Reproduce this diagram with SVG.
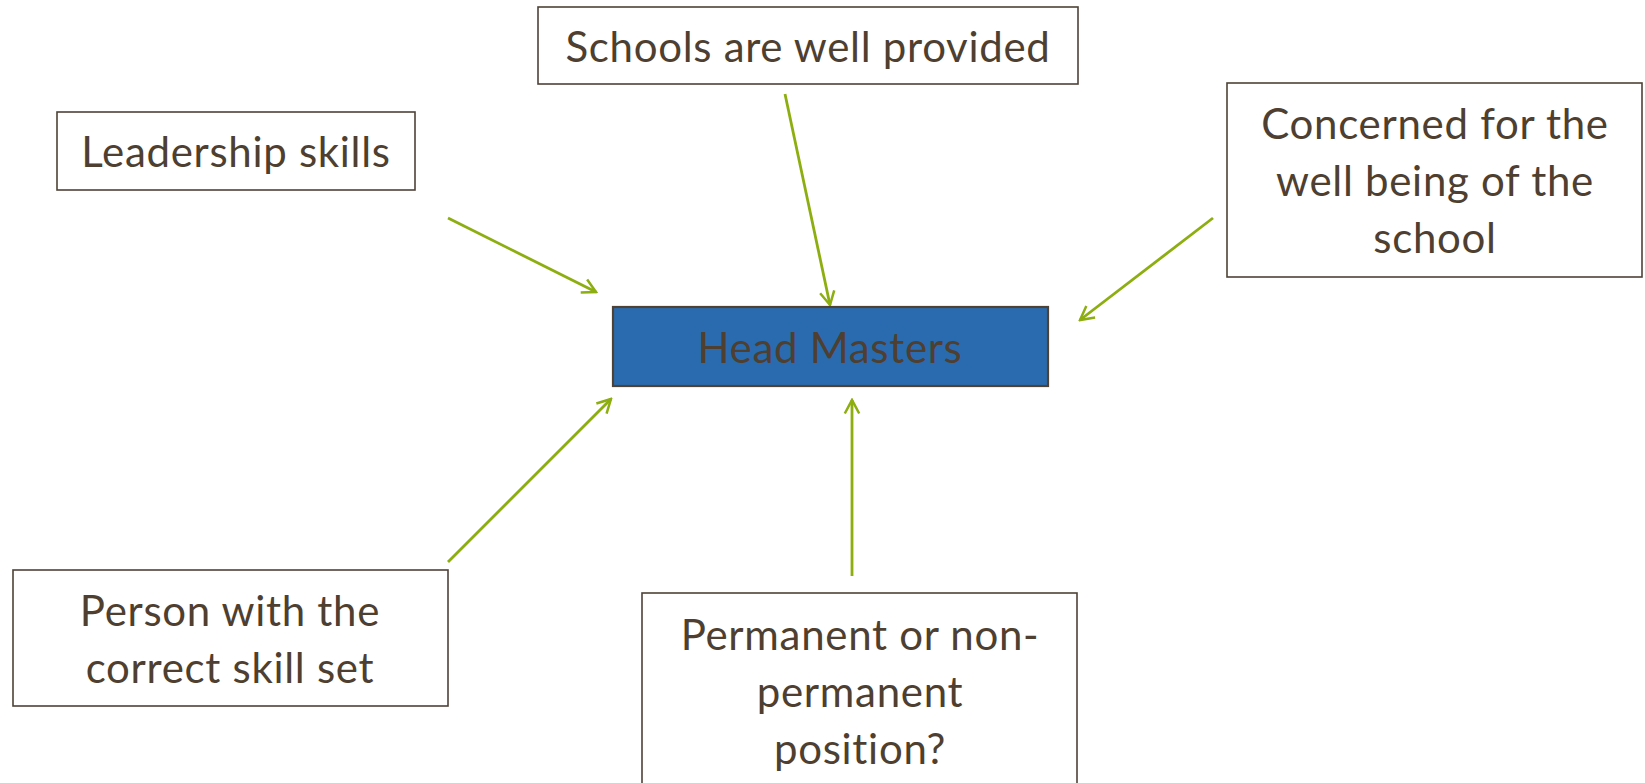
<svg xmlns="http://www.w3.org/2000/svg" width="1645" height="783" viewBox="0 0 1645 783">
<style>
.box{fill:#ffffff;stroke:#4E4236;stroke-width:1.6}
.main{fill:#2A6BB0;stroke:#4E4236;stroke-width:2.2}
.t{font-family:"Lato","Open Sans","Liberation Sans",sans-serif;font-size:42px;letter-spacing:0.7px;fill:#4E3F30;text-anchor:middle;dominant-baseline:central}
.c{stroke:#8DAE10;stroke-width:2.8;fill:none;marker-end:url(#ah)}
</style>
<defs>
<marker id="ah" viewBox="0 0 20 20" refX="18" refY="10" markerWidth="18" markerHeight="18" orient="auto" markerUnits="userSpaceOnUse">
<path d="M3,2 L18,10 L3,18" fill="none" stroke="#8DAE10" stroke-width="2.8"/>
</marker>
</defs>
<rect width="1645" height="783" fill="#ffffff"/>
<g id="connectors">
<line class="c" x1="448" y1="218" x2="596" y2="292"/>
<line class="c" x1="785" y1="94" x2="830" y2="305"/>
<line class="c" x1="1213" y1="218" x2="1080" y2="320"/>
<line class="c" x1="448" y1="562" x2="611" y2="399"/>
<line class="c" x1="852" y1="576" x2="852" y2="400"/>
</g>
<g id="n-schools">
<rect class="box" x="538" y="7" width="540" height="77"/>
<text class="t" x="808" y="46">Schools are well provided</text>
</g>
<g id="n-leadership">
<rect class="box" x="57" y="112" width="358" height="78"/>
<text class="t" x="236" y="151">Leadership skills</text>
</g>
<g id="n-concerned">
<rect class="box" x="1227" y="83" width="415" height="194"/>
<text class="t" x="1435" y="123">Concerned for the</text>
<text class="t" x="1435" y="180">well being of the</text>
<text class="t" x="1435" y="237">school</text>
</g>
<g id="n-head">
<rect class="main" x="613" y="307" width="435" height="79"/>
<text class="t" x="830" y="347">Head Masters</text>
</g>
<g id="n-person">
<rect class="box" x="13" y="570" width="435" height="136"/>
<text class="t" x="230" y="610">Person with the</text>
<text class="t" x="230" y="667">correct skill set</text>
</g>
<g id="n-permanent">
<rect class="box" x="642" y="593" width="435" height="210"/>
<text class="t" x="860" y="634">Permanent or non-</text>
<text class="t" x="860" y="691">permanent</text>
<text class="t" x="860" y="748">position?</text>
</g>
</svg>
